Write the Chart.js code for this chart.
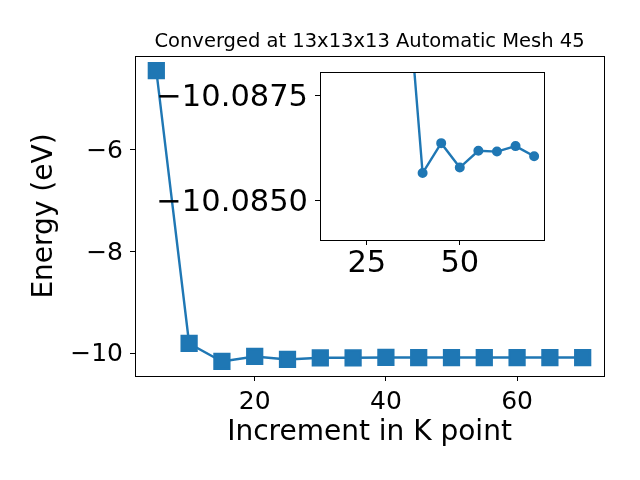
<!DOCTYPE html>
<html lang="en">
<head>
    <meta charset="UTF-8">
    <title>Converged at 13x13x13 Automatic Mesh 45</title>
    <script src="https://cdn.jsdelivr.net/npm/chart.js"></script>
    <style>
        body {
            margin: 0;
            background: #fff;
        }
        #wrap {
            position: relative;
            width: 640px;
            height: 480px;
        }
        #mainCanvas {
            position: absolute;
            left: 0;
            top: 0;
        }
        #insetCanvas {
            position: absolute;
            left: 150px; /* inset box starts at x=320 */
            top: 60px;
        }
    </style>
</head>
<body>
    <div id="wrap">
        <canvas id="mainCanvas" width="640" height="480"></canvas>
        <canvas id="insetCanvas" width="400" height="230"></canvas>
    </div>

    <script>
        // k-point increments and total energy (eV)
        const kPoints = [5, 10, 15, 20, 25, 30, 35, 40, 45, 50, 55, 60, 65, 70];
        const energy = [-4.44, -9.81, -10.164, -10.065, -10.124, -10.092, -10.0911,
                        -10.08566, -10.08637, -10.08579, -10.08619, -10.08617, -10.0863, -10.08606];

        const mainXTicks = [20, 40, 60];
        const mainYTicks = [-10, -8, -6];
        const insetXTicks = [25, 50];
        const insetYTicks = [-10.0875, -10.0850];
        const insetStart = 25; // inset only shows the converged tail

        const blue = "#1f77b4";
        const font = "'DejaVu Sans', sans-serif";

        function minusLabel(v, digits) {
            const s = Math.abs(v).toFixed(digits);
            return v < 0 ? "\u2212" + s : s;
        }

        // matplotlib style frame round the plot area
        const frame = {
            id: "frame",
            afterDraw(chart) {
                const a = chart.chartArea;
                const ctx = chart.ctx;
                ctx.save();
                ctx.strokeStyle = "#000";
                ctx.lineWidth = 1;
                ctx.strokeRect(Math.round(a.left) + 0.5, Math.round(a.top) + 0.5,
                    Math.round(a.right - a.left), Math.round(a.bottom - a.top));
                ctx.restore();
            }
        };

        // fixed box sizes, no extra room for overflowing labels
        function fixX(h) {
            return s => { s.height = h; s.paddingLeft = 0; s.paddingRight = 0; };
        }
        function fixY(w) {
            return s => { s.width = w; s.paddingTop = 0; s.paddingBottom = 0; };
        }

        function axisOpts(extra) {
            return Object.assign({
                type: "linear",
                grid: { drawOnChartArea: false, drawTicks: true, tickLength: 5, color: "#000" },
                border: { display: true, color: "#000", width: 1 },
            }, extra);
        }

        const mainData = kPoints.map((x, i) => ({ x, y: energy[i] }));

        new Chart(document.getElementById("mainCanvas"), {
            type: "line",
            data: {
                datasets: [{
                    data: mainData,
                    borderColor: blue,
                    backgroundColor: blue,
                    borderWidth: 2.4,
                    pointStyle: "rect",
                    pointRadius: 10.5,
                    pointHoverRadius: 10.5,
                    tension: 0,
                }]
            },
            options: {
                responsive: false,
                animation: false,
                events: [],
                layout: { padding: { left: 0, right: 36, top: 0, bottom: 0 } },
                plugins: {
                    legend: { display: false },
                    tooltip: { enabled: false },
                    title: {
                        display: true,
                        text: "Converged at 13x13x13 Automatic Mesh 45",
                        fullSize: false,
                        color: "#000",
                        font: { family: font, size: 19.5, weight: "normal" },
                        padding: { top: 30, bottom: 2.6 },
                    },
                },
                scales: {
                    x: axisOpts({
                        min: 1.75, max: 73.25,
                        afterBuildTicks: s => { s.ticks = mainXTicks.map(v => ({ value: v })); },
                        afterFit: fixX(104),
                        ticks: { color: "#000", padding: 6, font: { family: font, size: 25 },
                                 callback: v => String(v) },
                        title: { display: true, text: "Increment in K point", color: "#000",
                                 font: { family: font, size: 28 }, padding: { top: 0, bottom: 30 } },
                    }),
                    y: axisOpts({
                        min: -10.45, max: -4.15,
                        afterBuildTicks: s => { s.ticks = mainYTicks.map(v => ({ value: v })); },
                        afterFit: fixY(135),
                        ticks: { color: "#000", padding: 7, labelOffset: 1.5,
                                 font: { family: font, size: 25 },
                                 callback: v => minusLabel(v, 0) },
                        title: { display: true, text: "Energy (eV)", color: "#000",
                                 font: { family: font, size: 28 }, padding: { top: 28, bottom: 0 } },
                    }),
                },
            },
            plugins: [frame],
        });

        // inset zoom on the converged values
        const insetData = mainData.filter(p => p.x >= insetStart);

        new Chart(document.getElementById("insetCanvas"), {
            type: "line",
            data: {
                datasets: [{
                    data: insetData,
                    borderColor: blue,
                    backgroundColor: blue,
                    borderWidth: 2.4,
                    pointStyle: "circle",
                    pointRadius: 3.8,
                    pointHoverRadius: 3.8,
                    tension: 0,
                }]
            },
            options: {
                responsive: false,
                animation: false,
                events: [],
                layout: { padding: { left: 0, right: 6, top: 12, bottom: 0 } },
                plugins: {
                    legend: { display: false },
                    tooltip: { enabled: false },
                },
                scales: {
                    x: axisOpts({
                        min: 12.4, max: 72.6,
                        afterBuildTicks: s => { s.ticks = insetXTicks.map(v => ({ value: v })); },
                        afterFit: fixX(50),
                        ticks: { color: "#000", padding: 1, font: { family: font, size: 30.5 },
                                 callback: v => String(v) },
                    }),
                    y: axisOpts({
                        reverse: true,
                        min: -10.08806, max: -10.08407,
                        afterBuildTicks: s => { s.ticks = insetYTicks.map(v => ({ value: v })); },
                        afterFit: fixY(170),
                        ticks: { color: "#000", padding: 7, labelOffset: 2,
                                 font: { family: font, size: 30.5 },
                                 callback: v => minusLabel(v, 4) },
                    }),
                },
            },
            plugins: [frame],
        });
    </script>
</body>
</html>
